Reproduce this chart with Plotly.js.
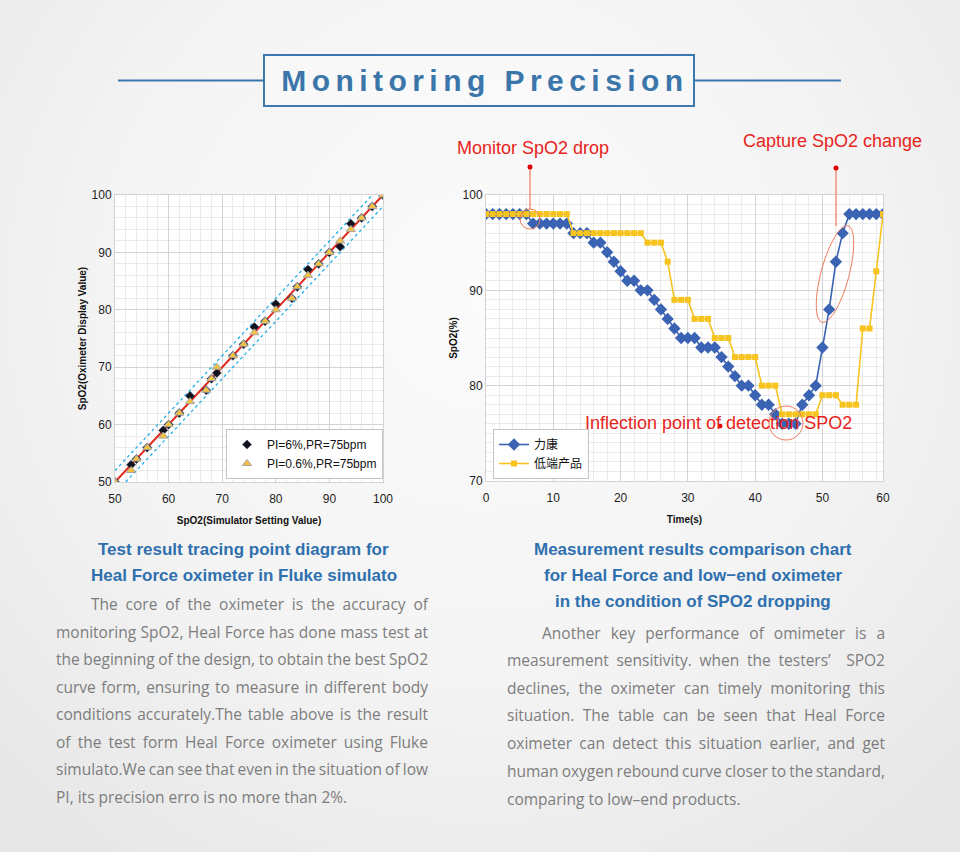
<!DOCTYPE html>
<html>
<head>
<meta charset="utf-8">
<script src="https://cdn.plot.ly/plotly-3.0.1.min.js"></script>
<style>
html,body{margin:0;padding:0;}
body{width:960px;height:852px;background:radial-gradient(ellipse 70% 80% at 50% 35%, #fbfbfb 0%, #f4f4f4 55%, #e7e7e7 100%);}
#chart{width:960px;height:852px;}
</style>
</head>
<body>
<div id="chart"></div>
<script>
// ---------- Left chart data ----------
const simSetting = [50,53,54,56,59,60,62,64,67,68,69,72,74,76,78,80,83,84,86,88,90,92,94,96,98,100];
const pi6Values  = [50,53,54,56,59,60,62,65,66,68,69,72,74,77,78,81,82,84,87,88,90,91,95,96,98,100];
const pi06Values = [50,52,54,56,58,60,62,64,66,68,70,72,74,76,78,80,82,84,86,88,90,92,94,96,98,100];
const refX = [50,100], refY = [50,100];
const upperX = [50,98], upperY = [52,100];
const lowerX = [52,100], lowerY = [50,98];
const leftTicks = [50,60,70,80,90,100];

// ---------- Right chart data ----------
const timeS = [0,1,2,3,4,5,6,7,8,9,10,11,12,13,14,15,16,17,18,19,20,21,22,23,24,25,26,27,28,29,30,31,32,33,34,35,36,37,38,39,40,41,42,43,44,45,46,47,48,49,50,51,52,53,54,55,56,57,58,59];
const likang = [98,98,98,98,98,98,98,97,97,97,97,97,97,96,96,96,95,95,94,93,92,91,91,90,90,89,88,87,86,85,85,85,84,84,84,83,82,81,80,80,79,78,78,77,76,76,76,78,79,80,84,88,93,96,98,98,98,98,98,98];
const lowEnd = [98,98,98,98,98,98,98,98,98,98,98,98,98,96,96,96,96,96,96,96,96,96,96,96,95,95,95,93,89,89,89,87,87,87,85,85,85,83,83,83,83,80,80,80,77,77,77,77,77,77,79,79,79,78,78,78,86,86,92,98];
const timeTickVals = [0,10,20,30,40,50,59];
const timeTickText = ["0","10","20","30","40","50","60"];
const spo2Ticks = [70,80,90,100];

// ---------- Texts ----------
const mainTitle = "Monitoring Precision";
const leftCaption = ["Test result tracing point diagram for","Heal Force oximeter in Fluke simulato"];
const rightCaption = ["Measurement results comparison chart","for Heal Force and low\u2212end oximeter","in the condition of SPO2 dropping"];
const leftBody = [
 "The core of the oximeter is the accuracy of",
 "monitoring SpO2, Heal Force has done mass test at",
 "the beginning of the design, to obtain the best SpO2",
 "curve form, ensuring to measure in different body",
 "conditions accurately.The table above is the result",
 "of the test form Heal Force oximeter using Fluke",
 "simulato.We can see that even in the situation of low",
 "PI, its precision erro is no more than 2%."
];
const rightBody = [
 "Another key performance of omimeter is a",
 "measurement sensitivity. when the testers\u2019  SPO2",
 "declines, the oximeter can timely monitoring this",
 "situation. The table can be seen that Heal Force",
 "oximeter can detect this situation earlier, and get",
 "human oxygen rebound curve closer to the standard,",
 "comparing to low\u2013end products."
];

// ---------- helpers (pixel -> paper) ----------
const W = 960, H = 852;
const px = x => x / W;
const py = y => 1 - y / H;

const FONT = "Liberation Sans, Arial, sans-serif";
const BODYFONT = "Open Sans, Liberation Sans, sans-serif";
const blue = "#3b63b3", yellow = "#f7c31e", red = "#e8241c", pointer = "#ef7a5a";

const traces = [
  {x: refX, y: refY, mode: 'lines', line: {color: '#e0281b', width: 2}, showlegend: false, xaxis: 'x', yaxis: 'y', hoverinfo: 'skip'},
  {x: upperX, y: upperY, mode: 'lines', line: {color: '#22b0e8', width: 1.3, dash: 'dot'}, showlegend: false, xaxis: 'x', yaxis: 'y', hoverinfo: 'skip'},
  {x: lowerX, y: lowerY, mode: 'lines', line: {color: '#22b0e8', width: 1.3, dash: 'dot'}, showlegend: false, xaxis: 'x', yaxis: 'y', hoverinfo: 'skip'},
  {x: simSetting, y: pi6Values, name: 'PI=6%,PR=75bpm', mode: 'markers', xaxis: 'x', yaxis: 'y', legend: 'legend',
   marker: {symbol: 'diamond', size: 7, color: '#10131e', line: {color: '#3a3f5a', width: 0.5}}},
  {x: simSetting, y: pi06Values, name: 'PI=0.6%,PR=75bpm', mode: 'markers', xaxis: 'x', yaxis: 'y', legend: 'legend',
   marker: {symbol: 'triangle-up', size: 8, color: '#f6c23e', line: {color: '#a6a6a6', width: 1}}},
  {x: timeS, y: likang, name: '力康', mode: 'lines+markers', xaxis: 'x2', yaxis: 'y2', legend: 'legend2',
   line: {color: blue, width: 1.6}, marker: {symbol: 'diamond', size: 9.5, color: blue}},
  {x: timeS, y: lowEnd, name: '低端产品', mode: 'lines+markers', xaxis: 'x2', yaxis: 'y2', legend: 'legend2',
   line: {color: yellow, width: 1.6}, marker: {symbol: 'square', size: 6, color: yellow}}
];

function ellipsePath(cx, cy, a, b, thetaDeg) {
  const t = thetaDeg * Math.PI / 180;
  let s = '';
  for (let i = 0; i <= 72; i++) {
    const u = i / 72 * 2 * Math.PI;
    const ex = b * Math.cos(u), ey = a * Math.sin(u);
    const x = cx + ex * Math.cos(t) + ey * Math.sin(t);
    const y = cy - ey * Math.cos(t) + ex * Math.sin(t);
    s += (i === 0 ? 'M' : 'L') + px(x).toFixed(5) + ',' + py(y).toFixed(5) + ' ';
  }
  return s + 'Z';
}

const shapes = [
  {type: 'line', xref: 'paper', yref: 'paper', x0: px(118), x1: px(264), y0: py(80.5), y1: py(80.5), line: {color: '#3a78ae', width: 2}},
  {type: 'line', xref: 'paper', yref: 'paper', x0: px(694), x1: px(841), y0: py(80.5), y1: py(80.5), line: {color: '#3a78ae', width: 2}},
  {type: 'rect', xref: 'paper', yref: 'paper', x0: px(264), x1: px(694), y0: py(106), y1: py(55), line: {color: '#3a78ae', width: 2}, fillcolor: 'rgba(250,250,250,0.6)'},
  {type: 'line', xref: 'paper', yref: 'paper', x0: px(530), x1: px(530), y0: py(167), y1: py(209), line: {color: pointer, width: 1.2}},
  {type: 'circle', xref: 'paper', yref: 'paper', x0: px(527.5), x1: px(532.5), y0: py(169.5), y1: py(164.5), fillcolor: '#e00000', line: {width: 0}},
  {type: 'circle', xref: 'paper', yref: 'paper', x0: px(520), x1: px(540), y0: py(229), y1: py(209), line: {color: pointer, width: 1}},
  {type: 'line', xref: 'paper', yref: 'paper', x0: px(836), x1: px(836), y0: py(168), y1: py(226), line: {color: pointer, width: 1.2}},
  {type: 'circle', xref: 'paper', yref: 'paper', x0: px(833.5), x1: px(838.5), y0: py(170.5), y1: py(165.5), fillcolor: '#e00000', line: {width: 0}},
  {type: 'path', xref: 'paper', yref: 'paper', path: ellipsePath(835, 274, 50, 14, 15), line: {color: pointer, width: 1}},
  {type: 'circle', xref: 'paper', yref: 'paper', x0: px(769), x1: px(803), y0: py(440), y1: py(406), line: {color: pointer, width: 1}},
  {type: 'circle', xref: 'paper', yref: 'paper', x0: px(718), x1: px(722.5), y0: py(428.3), y1: py(423.8), fillcolor: '#e00000', line: {width: 0}}
];

const annotations = [];
const justify = []; // [index, width, text]
function addText(text, x, y, opts) {
  annotations.push(Object.assign({text: text, xref: 'paper', yref: 'paper', x: px(x), y: py(y), showarrow: false,
    xanchor: 'center', yanchor: 'middle', borderpad: 0}, opts));
  return annotations.length - 1;
}
const titleIdx = addText(mainTitle, 482, 81, {font: {family: FONT, size: 30, color: '#3a76aa', weight: 'bold'}});

addText('Monitor SpO2 drop', 532.5, 148, {font: {family: FONT, size: 18, color: red}});
addText('Capture SpO2 change', 832, 141, {font: {family: FONT, size: 18, color: red}});
addText('Inflection point of detection SPO2', 718.5, 423, {font: {family: FONT, size: 18, color: red}});

const capFont = {family: FONT, size: 17, color: '#2f70ae', weight: 'bold'};
leftCaption.forEach((t, i) => addText(t, 243.5, 549 + i * 26, {font: capFont}));
rightCaption.forEach((t, i) => addText(t, 693, 549 + i * 26, {font: capFont}));

const bodyFont = {family: BODYFONT, size: 15.5, color: '#7d7d7d'};
const leftYs = [604, 632, 659, 687, 714, 742, 769, 797];
leftBody.forEach((t, i) => {
  const x0 = i === 0 ? 90 : 55;
  const idx = addText(t, x0, leftYs[i], {xanchor: 'left', align: 'left', font: bodyFont});
  if (i < leftBody.length - 1) justify.push([idx, 427 - x0, t]);
});
const rightYs = [633, 660, 688, 715, 743, 771, 799];
rightBody.forEach((t, i) => {
  const x0 = i === 0 ? 541 : 506;
  const idx = addText(t, x0, rightYs[i], {xanchor: 'left', align: 'left', font: bodyFont});
  if (i < rightBody.length - 1) justify.push([idx, 884 - x0, t]);
});

const gridMajor = '#d3d3d3', gridMinor = '#ebebeb';
const tickFont = {family: FONT, size: 12, color: '#1e1e1e'};
const axTitleFont = {family: FONT, size: 10, color: '#111', weight: 'bold'};

const layout = {
  width: W, height: H,
  margin: {l: 0, r: 0, t: 0, b: 0},
  paper_bgcolor: 'rgba(0,0,0,0)',
  plot_bgcolor: '#ffffff',
  font: {family: FONT},
  xaxis: {domain: [px(115), px(383)], range: [50, 100], tickvals: leftTicks, anchor: 'y',
    showgrid: true, gridcolor: gridMajor, gridwidth: 1, zeroline: false,
    minor: {tickmode: 'linear', tick0: 50, dtick: 2, showgrid: true, gridcolor: gridMinor},
    showline: true, linecolor: gridMajor, mirror: true, ticks: '', tickfont: tickFont, ticklabelstandoff: 6,
    title: {text: 'SpO2(Simulator Setting Value)', font: axTitleFont, standoff: 11}},
  yaxis: {domain: [py(482), py(195)], range: [50, 100], tickvals: leftTicks, anchor: 'x',
    showgrid: true, gridcolor: gridMajor, zeroline: false,
    minor: {tickmode: 'linear', tick0: 50, dtick: 2, showgrid: true, gridcolor: gridMinor},
    showline: true, linecolor: gridMajor, mirror: true, ticks: '', tickfont: tickFont,
    title: {text: 'SpO2(Oximeter Display Value)', font: axTitleFont, standoff: 3}},
  xaxis2: {domain: [px(486), px(883)], range: [0, 59], tickvals: timeTickVals, ticktext: timeTickText, anchor: 'y2',
    showgrid: true, gridcolor: gridMajor, zeroline: false,
    minor: {tickmode: 'linear', tick0: 0, dtick: 2, showgrid: true, gridcolor: gridMinor},
    showline: true, linecolor: gridMajor, mirror: true, ticks: '', tickfont: tickFont, ticklabelstandoff: 6,
    title: {text: 'Time(s)', font: axTitleFont, standoff: 11}},
  yaxis2: {domain: [py(481), py(195)], range: [70, 100], tickvals: spo2Ticks, anchor: 'x2',
    showgrid: true, gridcolor: gridMajor, zeroline: false,
    minor: {tickmode: 'linear', tick0: 70, dtick: 1, showgrid: true, gridcolor: gridMinor},
    showline: true, linecolor: gridMajor, mirror: true, ticks: '', tickfont: tickFont,
    title: {text: 'SpO2(%)', font: axTitleFont, standoff: 3}},
  legend: {x: px(226), y: py(479), xanchor: 'left', yanchor: 'bottom', bgcolor: '#ffffff', bordercolor: '#c4c4c4', borderwidth: 1,
    font: {family: FONT, size: 12, color: '#111'}, tracegroupgap: 0, itemwidth: 30},
  legend2: {x: px(493), y: py(479), xanchor: 'left', yanchor: 'bottom', bgcolor: '#ffffff', bordercolor: '#c4c4c4', borderwidth: 1,
    font: {family: "Noto Sans CJK SC, sans-serif", size: 12, color: '#111'}, tracegroupgap: 0, itemwidth: 30},
  shapes: shapes,
  annotations: annotations
};

Plotly.newPlot('chart', traces, layout, {staticPlot: true}).then(() => {
  const getEl = idx => document.querySelector('g.annotation[data-index="' + idx + '"] text.annotation-text');
  const tEl = getEl(titleIdx);
  if (tEl) { tEl.setAttribute('textLength', 402); tEl.setAttribute('lengthAdjust', 'spacing'); }
  justify.forEach(([idx, w, t]) => {
    const el = getEl(idx);
    if (!el) return;
    const nat = el.getComputedTextLength();
    const spaces = (t.match(/ /g) || []).length;
    if (spaces > 0) el.style.wordSpacing = ((w - nat) / spaces).toFixed(2) + 'px';
  });
});
</script>
</body>
</html>
